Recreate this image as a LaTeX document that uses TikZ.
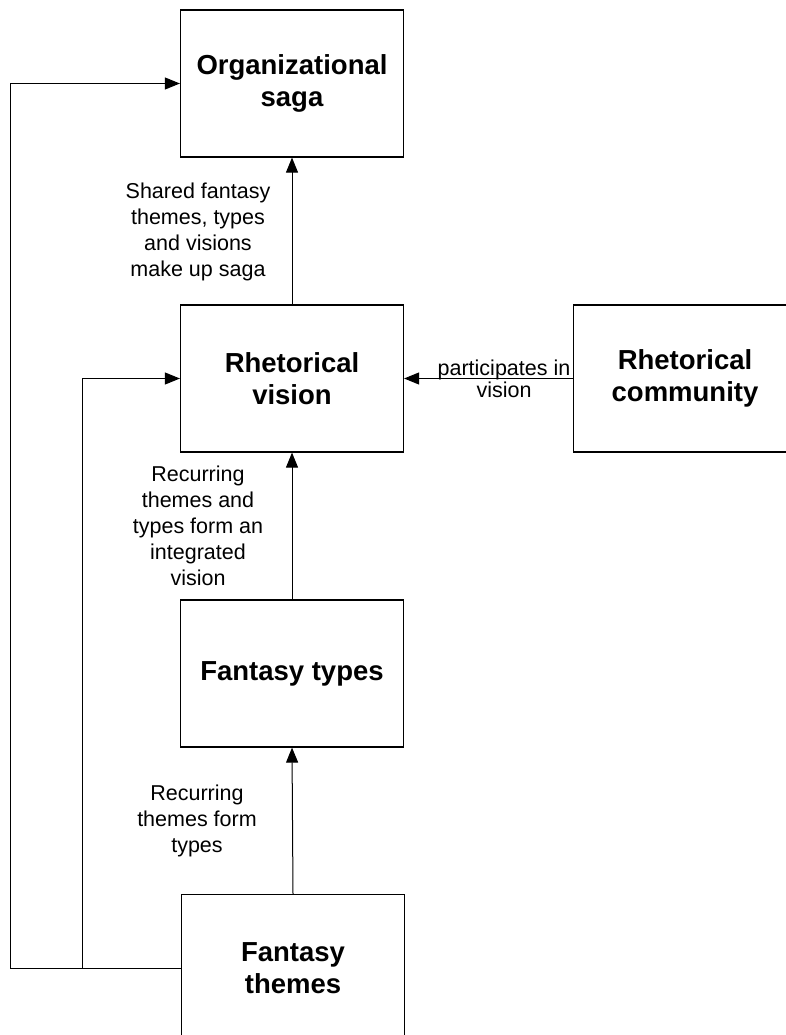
\documentclass[tikz,border=0pt]{standalone}
\usepackage{fontspec}
\setmainfont{Liberation Sans}
\usetikzlibrary{arrows.meta}
\begin{document}
\begin{tikzpicture}[x=1pt,y=-1pt,
  box/.style={draw,line width=1.2pt,minimum width=223pt,minimum height=147pt,
    inner sep=0pt,align=center,font=\fontsize{27.5}{32}\selectfont\bfseries},
  lbl/.style={align=center,inner sep=0pt,font=\fontsize{21.5}{26}\selectfont},
  arr/.style={line width=1pt,-{Triangle[length=15pt,width=12pt]}},
  link/.style={line width=1pt}]
\useasboundingbox (0,0) rectangle (786,1035);
\clip (0,0) rectangle (786,1035);

% boxes
\node[box] (os)  at (292,83.5)  {Organizational\\saga};
\node[box] (rv)  at (292,378.5) {Rhetorical\\vision};
\node[box] (rc)  at (685,378.5) {Rhetorical\\community};
\node[box] (ft)  at (292,673.5) {Fantasy types};
\node[box] (fth) at (293,968)   {Fantasy\\themes};

% upward chain
\draw[arr] (rv.north) -- (os.south);
\draw[arr] (ft.north) -- (rv.south);
\draw[arr] (fth.north) -- (ft.south);
\draw[arr] (rc.west) -- (rv.east);

% feedback lines from the fantasy themes
\coordinate (c1) at (10,968);
\coordinate (j1) at (82,968);
\draw[link] (fth.west) -- (c1);
\draw[arr] (c1) |- (os.west);
\draw[arr] (j1) |- (rv.west);

% connector labels
\node[lbl] (l1) at (198,232) {Shared fantasy\\themes, types\\and visions\\make up saga};
\node[lbl] (l2) at (198,526) {Recurring\\themes and\\types form an\\integrated\\vision};
\node[lbl] (l3) at (197,821) {Recurring\\themes form\\types};
\node[lbl,font=\fontsize{21.5}{22}\selectfont] (l4) at (504,379) {participates in\\vision};
\end{tikzpicture}
\end{document}
